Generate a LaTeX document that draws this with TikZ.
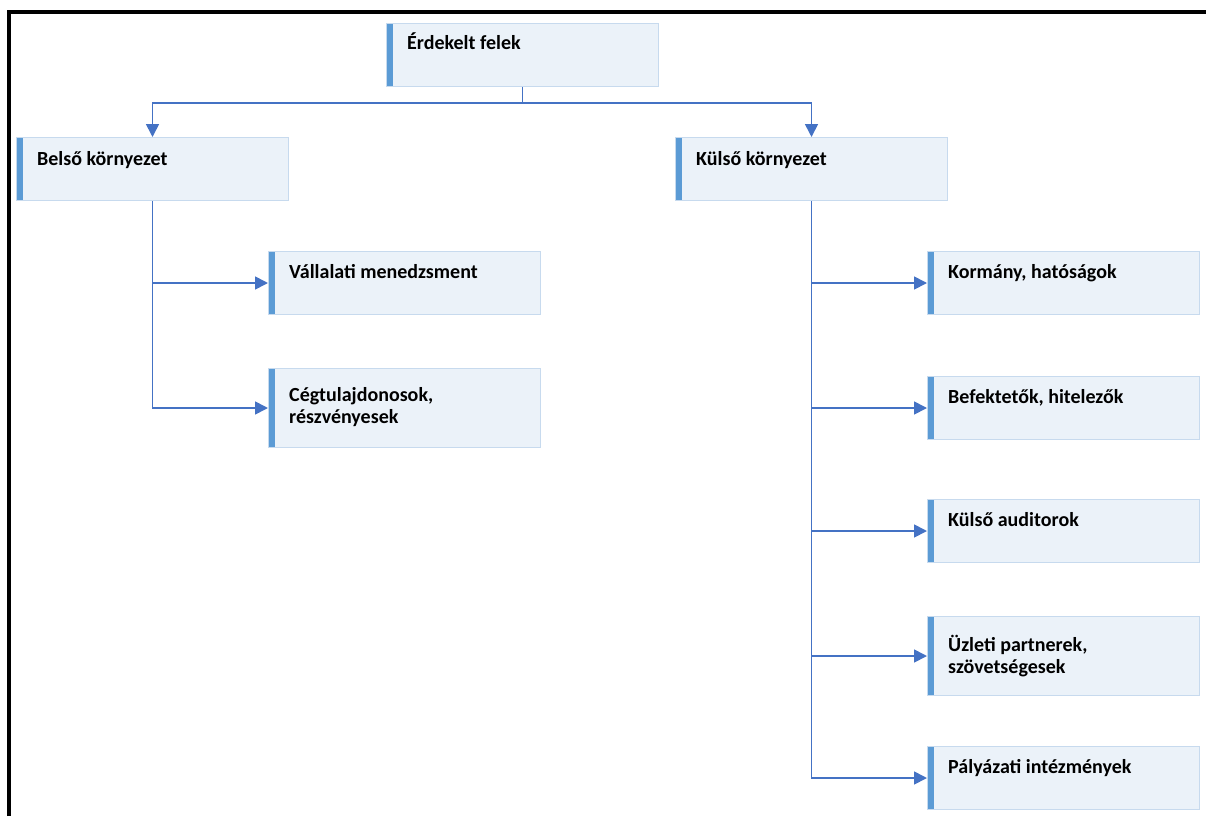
\documentclass[tikz,border=0pt]{standalone}
\usepackage{fontspec}
\setmainfont{Carlito}
\usetikzlibrary{arrows.meta}
\definecolor{boxfill}{HTML}{EBF2F9}
\definecolor{boxline}{HTML}{C7DAEE}
\definecolor{accent}{HTML}{5B9BD5}
\definecolor{link}{HTML}{4472C4}
\tikzset{
  orgbox/.style={rectangle, fill=boxfill, draw=boxline, line width=1pt,
    minimum width=272pt, minimum height=#1, inner sep=0pt, anchor=north west,
    path picture={\fill[accent] (path picture bounding box.north west) rectangle
      ([xshift=6pt]path picture bounding box.south west);}},
  orgbox/.default=63pt,
  boxtext/.style={anchor=base west, font=\bfseries\fontsize{20}{22}\selectfont,
    align=left, inner sep=0pt, text=black},
  link/.style={draw=link, line width=1.7pt, -{Triangle[length=13pt,width=13pt]}},
  plain/.style={draw=link, line width=1.7pt}
}
\begin{document}
\begin{tikzpicture}[x=1pt, y=-1pt]
  \useasboundingbox (0,0) rectangle (1206,816);
  % frame
  \draw[line width=4pt, line cap=butt] (9,816) -- (9,12.5) -- (1206,12.5);

  % boxes
  \node[orgbox] (root) at (386,23) {};
  \node[orgbox] (belso) at (16,137) {};
  \node[orgbox] (kulso) at (675,137) {};
  \node[orgbox] (vall) at (268,251) {};
  \node[orgbox=79pt] (ceg) at (268,368) {};
  \node[orgbox] (korm) at (927,251) {};
  \node[orgbox] (befek) at (927,376) {};
  \node[orgbox] (audit) at (927,499) {};
  \node[orgbox=79pt] (uzlet) at (927,616) {};
  \node[orgbox] (palya) at (927,746) {};

  % labels
  \node[boxtext] (t-root) at ([shift={(21pt,-27pt)}]root.north west) {Érdekelt felek};
  \node[boxtext] (t-belso) at ([shift={(21pt,-28pt)}]belso.north west) {Belső környezet};
  \node[boxtext] (t-kulso) at ([shift={(21pt,-28pt)}]kulso.north west) {Külső környezet};
  \node[boxtext] (t-vall) at ([shift={(21pt,-27pt)}]vall.north west) {Vállalati menedzsment};
  \node[boxtext, anchor=north west] (t-ceg) at ([shift={(21pt,-19pt)}]ceg.north west) {Cégtulajdonosok,\\részvényesek};
  \node[boxtext] (t-korm) at ([shift={(21pt,-27pt)}]korm.north west) {Kormány, hatóságok};
  \node[boxtext] (t-befek) at ([shift={(21pt,-27pt)}]befek.north west) {Befektetők, hitelezők};
  \node[boxtext] (t-audit) at ([shift={(21pt,-27pt)}]audit.north west) {Külső auditorok};
  \node[boxtext, anchor=north west] (t-uzlet) at ([shift={(21pt,-19pt)}]uzlet.north west) {Üzleti partnerek,\\szövetségesek};
  \node[boxtext] (t-palya) at ([shift={(21pt,-27pt)}]palya.north west) {Pályázati intézmények};

  % connectors
  \coordinate (split) at ([yshift=-16pt]root.south);
  \draw[plain] (root.south) -- (split);
  \draw[link] (split) -| (belso.north);
  \draw[link] (split) -| (kulso.north);

  \draw[link] (belso.south) |- (vall.west);
  \draw[link] (belso.south) |- (ceg.west);

  \draw[link] (kulso.south) |- (korm.west);
  \draw[link] (kulso.south) |- (befek.west);
  \draw[link] (kulso.south) |- (audit.west);
  \draw[link] (kulso.south) |- (uzlet.west);
  \draw[link] (kulso.south) |- (palya.west);
\end{tikzpicture}
\end{document}
